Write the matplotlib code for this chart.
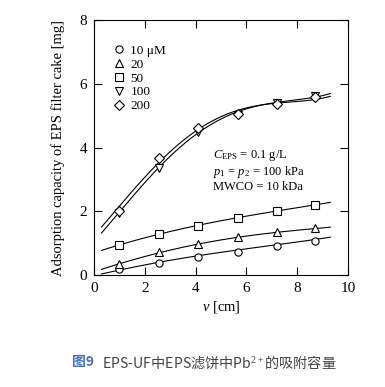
import numpy as np
import matplotlib
matplotlib.use("Agg")
import matplotlib.pyplot as plt

plt.rcParams['font.family'] = ['Liberation Serif', 'DejaVu Serif']
plt.rcParams['mathtext.fontset'] = 'custom'
plt.rcParams['mathtext.rm'] = 'Liberation Serif'
plt.rcParams['mathtext.it'] = 'Liberation Serif:italic'

# measured points
v = [1.0, 2.58, 4.08, 5.66, 7.2, 8.7]
labels = ['10 μM', '20', '50', '100', '200']
markers = ['o', '^', 's', 'v', 'D']
q10 = [0.18, 0.38, 0.55, 0.73, 0.91, 1.08]
q20 = [0.33, 0.71, 0.98, 1.18, 1.36, 1.46]
q50 = [0.93, 1.28, 1.55, 1.80, 2.01, 2.21]
q100 = [1.96, 3.37, 4.50, 5.02, 5.40, 5.62]
q200 = [2.01, 3.66, 4.60, 5.05, 5.38, 5.59]
series = [q10, q20, q50, q100, q200]

# fitted curves, read at a few positions
v_fit = [0.3, 1.0, 2.58, 4.08, 5.66, 7.2, 8.7, 9.3]
f10 = [0.03, 0.16, 0.40, 0.60, 0.79, 0.95, 1.11, 1.19]
f20 = [0.18, 0.35, 0.70, 0.97, 1.18, 1.34, 1.46, 1.50]
f50 = [0.77, 0.95, 1.28, 1.56, 1.80, 2.01, 2.20, 2.28]
f100 = [1.35, 1.92, 3.42, 4.48, 5.08, 5.42, 5.62, 5.67]
f200 = [1.55, 2.08, 3.60, 4.58, 5.12, 5.40, 5.55, 5.58]
fits = [f10, f20, f50, f100, f200]

fig = plt.figure(figsize=(3.85, 3.87), dpi=100)
ax = fig.add_axes([0.244, 0.2894, 0.660, 0.6586])

xx = np.linspace(v_fit[0], v_fit[-1], 200)
for f in fits:
    c = np.polyfit(v_fit, f, 4)
    ax.plot(xx, np.polyval(c, xx), color='black', lw=0.8)

for q, m, lab in zip(series, markers, labels):
    ms = 5.0 if m == 'D' else 5.2
    ax.plot(v, q, m, ms=ms, mfc='white', mec='black', mew=0.8, label=lab, ls='none')

ax.set_xlim(0, 10)
ax.set_ylim(0, 8)
ax.set_xticks([0, 2, 4, 6, 8, 10])
ax.set_yticks([0, 2, 4, 6, 8])
ax.tick_params(direction='in', length=6, width=0.8, top=True, right=True,
               labelsize=11, pad=5)
for s in ax.spines.values():
    s.set_linewidth(0.8)
ax.set_xlabel('$v$ [cm]', fontsize=10.5, labelpad=3)
ax.set_ylabel('Adsorption capacity of EPS filter cake [mg]', fontsize=10.5, labelpad=10)

ax.legend(loc='upper left', bbox_to_anchor=(0.04, 0.94), frameon=False, fontsize=9.5,
          handlelength=0.8, handletextpad=0.5, labelspacing=0.12, borderpad=0.2)

ax.text(0.47, 0.41, '$C_{\\mathrm{EPS}}$ = 0.1 g/L\n$p_1$ = $p_2$ = 100 kPa\nMWCO = 10 kDa',
        transform=ax.transAxes, fontsize=9, va='center', ha='left', linespacing=1.1)

fig.text(0.187, 0.064, '图9', family=['Noto Sans CJK SC', 'DejaVu Sans'], fontsize=10,
         fontweight='bold', color='#4a72c4', ha='left', va='center')
fig.text(0.265, 0.064, 'EPS-UF中EPS滤饼中Pb$^{2+}$的吸附容量',
         family=['Noto Sans CJK SC', 'DejaVu Sans'], fontsize=10.2, color='#444444',
         ha='left', va='center')

fig.savefig('out.png', dpi=100)
